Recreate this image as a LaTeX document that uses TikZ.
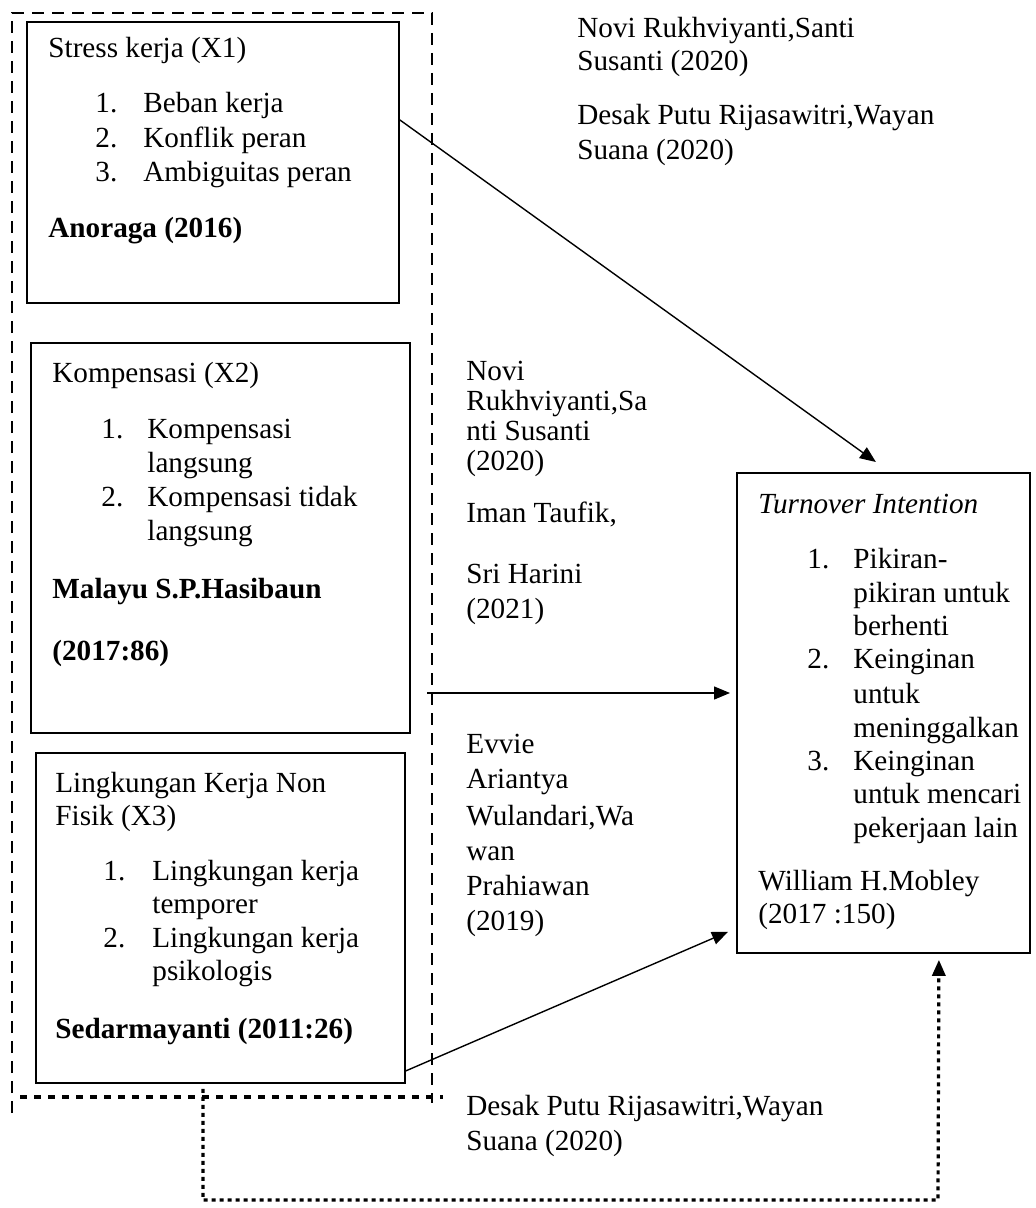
\documentclass[tikz,border=0pt]{standalone}
\usepackage{fontspec}
\setmainfont{Liberation Serif}
\usetikzlibrary{arrows.meta}

\begin{document}
\begin{tikzpicture}[x=0.5pt,y=-0.5pt,
  box/.style={draw, line width=0.9pt, anchor=north west, inner sep=0pt},
  txt/.style={anchor=base west, inner sep=0pt, yshift=-5pt, font=\fontsize{14.6}{17}\selectfont},
  bref/.style={txt, font=\fontsize{14.6}{17}\selectfont\bfseries},
  arr/.style={line width=0.7pt, -{Triangle[length=8pt,width=6.5pt]}},
  grpline/.style={line width=1.1pt, dash pattern=on 6pt off 4pt},
  sqdots/.style={line width=2.2pt, dash pattern=on 3.5pt off 3.5pt},
  dotarr/.style={line width=1.6pt, dash pattern=on 2pt off 2pt, -{Triangle[length=8pt,width=6.5pt]}}]
\useasboundingbox (0,0) rectangle (1036,1208);

\def\ma{466};
\def\mt{577};

% dashed group round X1, X2, X3
\coordinate (gbl) at (12,1113);
\coordinate (gtl) at (12,13);
\coordinate (gtr) at (432,13);
\coordinate (gbr) at (432,1103);
\coordinate (gb1) at (20,1097);
\coordinate (gb2) at (443,1097);
\draw[grpline] (gbl) -- (gtl) -- (gtr) -- (gbr);
\draw[sqdots] (gb1) -- (gb2);

% boxes
\node[box, minimum width=186pt, minimum height=140.5pt] (stress) at (26,21) {};
\node[box, minimum width=189.5pt, minimum height=195pt] (komp) at (30,342) {};
\node[box, minimum width=184.5pt, minimum height=165pt] (lingk) at (35,752) {};
\node[box, minimum width=146.5pt, minimum height=240pt] (tover) at (736,472) {};

% X1
\node[txt] (x1t) at (48,48) {Stress kerja (X1)};
\node[txt] (x1n1) at (95,103) {1.};
\node[txt] (x1i1) at (143,103) {Beban kerja};
\node[txt] (x1n2) at (95,138) {2.};
\node[txt] (x1i2) at (143,138) {Konflik peran};
\node[txt] (x1n3) at (95,172) {3.};
\node[txt] (x1i3) at (143,172) {Ambiguitas peran};
\node[bref] (x1r) at (48,228) {Anoraga (2016)};

% X2
\node[txt] (x2t) at (52,372) {Kompensasi (X2)};
\node[txt] (x2n1) at (101,428) {1.};
\node[txt] (x2i1) at (147,428) {Kompensasi};
\node[txt] (x2i1b) at (147,462) {langsung};
\node[txt] (x2n2) at (101,496) {2.};
\node[txt] (x2i2) at (147,496) {Kompensasi tidak};
\node[txt] (x2i2b) at (147,530) {langsung};
\node[bref] (x2r) at (52,588) {Malayu S.P.Hasibaun};
\node[bref] (x2rb) at (52,650) {(2017:86)};

% X3
\node[txt] (x3t) at (55,782) {Lingkungan Kerja Non};
\node[txt] (x3tb) at (55,815) {Fisik (X3)};
\node[txt] (x3n1) at (103,870) {1.};
\node[txt] (x3i1) at (152,870) {Lingkungan kerja};
\node[txt] (x3i1b) at (152,903) {temporer};
\node[txt] (x3n2) at (103,937) {2.};
\node[txt] (x3i2) at (152,937) {Lingkungan kerja};
\node[txt] (x3i2b) at (152,970) {psikologis};
\node[bref] (x3r) at (55,1028) {Sedarmayanti (2011:26)};

% Y
\node[txt] (yt) at (758,503) {\itshape Turnover Intention};
\node[txt] (yn1) at (807,558) {1.};
\node[txt] (yi1) at (853,558) {Pikiran-};
\node[txt] (yi1b) at (853,592) {pikiran untuk};
\node[txt] (yi1c) at (853,625) {berhenti};
\node[txt] (yn2) at (807,658) {2.};
\node[txt] (yi2) at (853,658) {Keinginan};
\node[txt] (yi2b) at (853,693) {untuk};
\node[txt] (yi2c) at (853,727) {meninggalkan};
\node[txt] (yn3) at (807,760) {3.};
\node[txt] (yi3) at (853,760) {Keinginan};
\node[txt] (yi3b) at (853,793) {untuk mencari};
\node[txt] (yi3c) at (853,827) {pekerjaan lain};
\node[txt] (yr) at (758,880) {William H.Mobley};
\node[txt] (yrb) at (758,913) {(2017 :150)};

% references beside the arrows
\node[txt] (r1a) at (\mt,28) {Novi Rukhviyanti,Santi};
\node[txt] (r1b) at (\mt,61) {Susanti (2020)};
\node[txt] (r2a) at (\mt,115) {Desak Putu Rijasawitri,Wayan};
\node[txt] (r2b) at (\mt,150) {Suana (2020)};

\node[txt] (r3a) at (\ma,370) {Novi};
\node[txt] (r3b) at (\ma,400) {Rukhviyanti,Sa};
\node[txt] (r3c) at (\ma,430) {nti Susanti};
\node[txt] (r3d) at (\ma,460) {(2020)};
\node[txt] (r4a) at (\ma,512) {Iman Taufik,};
\node[txt] (r4b) at (\ma,573) {Sri Harini};
\node[txt] (r4c) at (\ma,608) {(2021)};

\node[txt] (r5a) at (\ma,743) {Evvie};
\node[txt] (r5b) at (\ma,778) {Ariantya};
\node[txt] (r5c) at (\ma,815) {Wulandari,Wa};
\node[txt] (r5d) at (\ma,850) {wan};
\node[txt] (r5e) at (\ma,885) {Prahiawan};
\node[txt] (r5f) at (\ma,920) {(2019)};

\node[txt] (r6a) at (\ma,1105) {Desak Putu Rijasawitri,Wayan};
\node[txt] (r6b) at (\ma,1140) {Suana (2020)};

% arrows
\coordinate (gmid) at (427,693);
\coordinate (dc) at (938,1200);
\draw[arr] ([yshift=21.25pt]stress.east) -- ([xshift=-3.75pt,yshift=5pt]tover.north);
\draw[arr, shorten >=3pt] (gmid) -- (gmid -| tover.west);
\draw[arr] ([yshift=-76.5pt]lingk.east) -- ([xshift=-4pt,yshift=11pt]tover.south west);
\draw[dotarr] ([xshift=-8.75pt,yshift=-2.5pt]lingk.south) |- (dc) -- ([xshift=27.75pt,yshift=-3pt]tover.south);

\end{tikzpicture}
\end{document}
